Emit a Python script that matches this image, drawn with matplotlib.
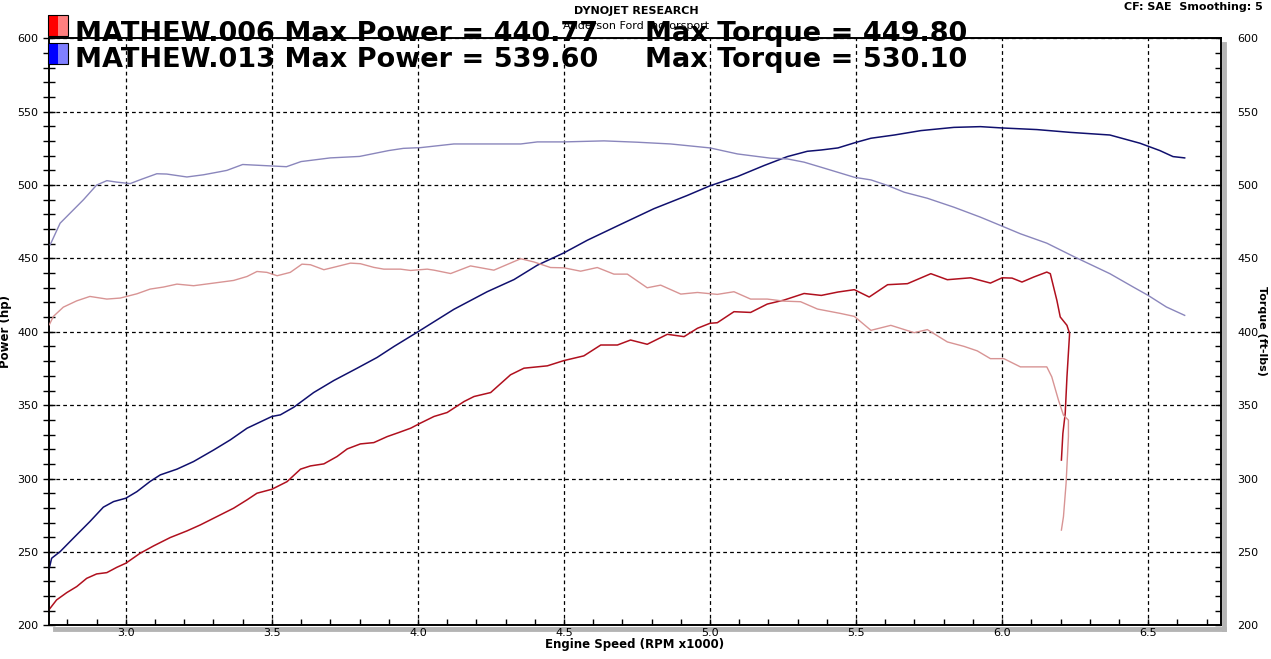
import matplotlib
matplotlib.use("Agg")
import matplotlib.pyplot as plt
from matplotlib.lines import Line2D
from matplotlib.patches import Rectangle
from matplotlib.ticker import MultipleLocator

# 运行 MATHEW.013 功率 (hp)
rpm_013_hp = [2.738, 2.746, 2.775, 2.82, 2.877, 2.923, 2.958, 3.0, 3.038, 3.083, 3.118, 3.175,
              3.232, 3.301, 3.358, 3.415, 3.5, 3.529, 3.575, 3.643, 3.712, 3.792, 3.86, 3.918,
              4.0, 4.123, 4.237, 4.329, 4.409, 4.5, 4.58, 4.694, 4.808, 4.922, 5.0, 5.094,
              5.185, 5.265, 5.333, 5.381, 5.438, 5.5, 5.551, 5.631, 5.722, 5.835, 5.926, 6.0,
              6.119, 6.233, 6.369, 6.472, 6.54, 6.585, 6.625]
hp_013 = [238.9, 245.7, 250.2, 259.3, 270.7, 280.5, 284.3, 286.6, 291.1, 298.0, 302.5, 306.4,
          311.6, 319.5, 326.4, 334.3, 342.3, 343.4, 348.6, 358.6, 366.8, 375.2, 382.5, 390.0,
          400.0, 415.3, 427.3, 435.6, 445.4, 453.8, 462.4, 473.2, 483.9, 492.9, 499.5, 505.8,
          513.3, 519.4, 523.0, 523.9, 525.3, 529.1, 531.9, 534.1, 537.1, 539.3, 539.8, 538.9,
          537.8, 535.9, 534.1, 528.5, 523.5, 519.4, 518.5]

# 运行 MATHEW.013 扭矩 (ft-lbs)
rpm_013_tq = [2.741, 2.775, 2.82, 2.855, 2.9, 2.935, 2.969, 3.015, 3.049, 3.106, 3.14, 3.209,
              3.266, 3.32, 3.346, 3.4, 3.5, 3.55, 3.6, 3.7, 3.8, 3.9, 3.95, 4.009, 4.123,
              4.352, 4.409, 4.5, 4.637, 4.75, 4.865, 5.0, 5.094, 5.208, 5.265, 5.322, 5.381,
              5.494, 5.551, 5.608, 5.665, 5.744, 5.835, 5.926, 6.0, 6.0625, 6.153, 6.244,
              6.369, 6.449, 6.5, 6.5625, 6.625]
tq_013 = [459.3, 474.0, 483.0, 490.0, 500.0, 503.0, 502.0, 501.0, 503.6, 507.7, 507.5, 505.5,
          507.0, 509.0, 510.0, 514.0, 513.0, 512.5, 516.0, 518.5, 519.5, 523.5, 525.0, 525.5,
          528.0, 528.0, 529.4, 529.4, 530.1, 529.2, 528.0, 525.3, 521.2, 518.3, 517.8, 515.6,
          512.1, 505.3, 503.5, 499.7, 495.1, 491.0, 484.9, 478.1, 472.0, 466.8, 460.4, 451.4,
          439.6, 430.5, 424.8, 416.9, 411.2]

# 运行 MATHEW.006 功率 (hp)
rpm_006_hp = [2.738, 2.763, 2.798, 2.832, 2.866, 2.9, 2.935, 2.969, 3.0, 3.049, 3.095, 3.152,
              3.209, 3.255, 3.312, 3.369, 3.415, 3.449, 3.5, 3.552, 3.598, 3.632, 3.678, 3.723,
              3.758, 3.803, 3.849, 3.895, 3.935, 3.975, 4.009, 4.055, 4.1, 4.158, 4.192, 4.249,
              4.317, 4.363, 4.443, 4.5, 4.568, 4.626, 4.683, 4.728, 4.785, 4.854, 4.911, 4.957,
              5.0, 5.025, 5.082, 5.139, 5.196, 5.253, 5.322, 5.381, 5.438, 5.494, 5.545, 5.608,
              5.676, 5.756, 5.8125, 5.892, 5.96, 6.0, 6.034, 6.068, 6.108, 6.153, 6.165, 6.1875,
              6.199, 6.222, 6.231, 6.222, 6.216, 6.208, 6.203]
hp_006 = [210.9, 217.3, 222.3, 226.4, 232.0, 235.0, 235.9, 239.5, 242.3, 249.1, 254.1, 259.8,
          264.3, 268.4, 274.1, 279.8, 285.5, 290.0, 292.7, 297.9, 306.4, 308.6, 310.0, 315.0,
          320.2, 323.6, 324.5, 328.6, 331.4, 334.3, 337.8, 342.3, 345.0, 352.5, 355.9, 358.6,
          370.7, 375.2, 376.8, 380.4, 383.6, 391.0, 391.0, 394.4, 391.5, 398.3, 396.7, 402.4,
          405.8, 406.2, 413.7, 413.2, 418.9, 421.6, 426.1, 424.8, 427.1, 428.7, 423.7, 432.1,
          432.8, 439.6, 435.5, 436.8, 433.2, 436.8, 436.6, 433.9, 437.3, 440.7, 439.6, 421.4,
          410.1, 404.4, 398.8, 369.3, 344.3, 330.7, 312.6]

# 运行 MATHEW.006 扭矩 (ft-lbs)
rpm_006_tq = [2.738, 2.752, 2.786, 2.832, 2.877, 2.935, 2.981, 3.038, 3.083, 3.129, 3.175,
              3.232, 3.301, 3.369, 3.415, 3.449, 3.483, 3.518, 3.563, 3.603, 3.632, 3.678,
              3.723, 3.769, 3.803, 3.849, 3.883, 3.94, 3.975, 4.032, 4.055, 4.112, 4.18, 4.26,
              4.352, 4.397, 4.454, 4.5, 4.557, 4.614, 4.671, 4.717, 4.785, 4.831, 4.9, 4.957,
              5.025, 5.082, 5.139, 5.196, 5.253, 5.31, 5.368, 5.447, 5.494, 5.551, 5.619, 5.699,
              5.744, 5.8125, 5.869, 5.915, 5.96, 6.006, 6.0625, 6.153, 6.17, 6.193, 6.21, 6.227,
              6.227, 6.219, 6.21, 6.203]
tq_006 = [404.8, 410.5, 416.8, 421.1, 424.1, 422.3, 423.0, 425.9, 429.1, 430.5, 432.5, 431.4,
          433.2, 435.0, 437.7, 441.1, 440.5, 438.2, 440.5, 446.1, 445.7, 442.3, 444.5, 446.8,
          446.4, 443.9, 442.7, 442.7, 441.8, 442.7, 442.0, 439.7, 444.9, 442.0, 449.8, 447.6,
          443.8, 443.6, 441.3, 443.8, 439.3, 439.3, 430.0, 431.8, 425.7, 426.8, 425.5, 427.3,
          422.3, 422.3, 420.9, 420.5, 415.5, 412.5, 410.5, 401.0, 404.4, 399.4, 401.5, 393.1,
          390.1, 387.0, 381.7, 381.7, 376.1, 376.1, 369.3, 353.4, 343.2, 339.8, 328.5, 296.7,
          274.0, 264.9]

legend_names = ["MATHEW.006", "MATHEW.013"]
max_power = ["440.77", "539.60"]
max_torque = ["449.80", "530.10"]

W, H = 1271, 659
fig = plt.figure(figsize=(W / 100, H / 100), dpi=100)
fig.patch.set_facecolor("white")

ax_l, ax_r, ax_t, ax_b = 49.3, 1220.6, 38.3, 625.3
ax = fig.add_axes([ax_l / W, 1 - ax_b / H, (ax_r - ax_l) / W, (ax_b - ax_t) / H])
ax2 = ax.twinx()

# 灰色阴影边框
fig.add_artist(Line2D([(ax_l + 6) / W, (ax_r + 3) / W], [1 - (ax_b + 3.5) / H] * 2,
                      color="#b4b4b4", lw=3.5, transform=fig.transFigure, zorder=0))
fig.add_artist(Line2D([(ax_r + 3) / W] * 2, [1 - (ax_t + 6) / H, 1 - (ax_b + 3.5) / H],
                      color="#b4b4b4", lw=3.5, transform=fig.transFigure, zorder=0))

ax.plot(rpm_006_hp, hp_006, color="#b0101e", lw=1.1, zorder=3)
ax.plot(rpm_013_hp, hp_013, color="#10106e", lw=1.1, zorder=3)
ax2.plot(rpm_006_tq, tq_006, color="#d89494", lw=1.0, zorder=3)
ax2.plot(rpm_013_tq, tq_013, color="#8a86bc", lw=1.0, zorder=3)

for a in (ax, ax2):
    a.set_xlim(2.738, 6.748)
    a.set_ylim(200, 600)
    a.yaxis.set_major_locator(MultipleLocator(50))
    a.yaxis.set_minor_locator(MultipleLocator(10))
    for s in a.spines.values():
        s.set_color("black")
        s.set_linewidth(1.2)

ax.xaxis.set_major_locator(MultipleLocator(0.5))
ax.xaxis.set_minor_locator(MultipleLocator(0.1))
ax.set_xticks([3.0, 3.5, 4.0, 4.5, 5.0, 5.5, 6.0, 6.5])
ax.set_xticklabels(["3.0", "3.5", "4.0", "4.5", "5.0", "5.5", "6.0", "6.5"])
ax.grid(True, which="major", color="black", linestyle=(0, (3, 2.5)), linewidth=0.9)

ax.tick_params(axis="x", which="both", direction="in", length=4.5, width=1, pad=2,
               labelsize=8, colors="black")
ax.tick_params(axis="y", which="both", direction="inout", length=8, width=1, pad=4,
               labelsize=8)
ax2.tick_params(axis="y", which="both", direction="in", length=4.5, width=1, pad=12,
                labelsize=8)
ax.set_yticks([200, 250, 300, 350, 400, 450, 500, 550, 600])
ax2.set_yticks([200, 250, 300, 350, 400, 450, 500, 550, 600])

ax.set_xlabel("Engine Speed (RPM x1000)", fontsize=8.5, fontweight="bold", labelpad=0)
ax.set_ylabel("Power (hp)", fontsize=8.5, fontweight="bold", labelpad=4)
fig.text(1262 / W, 1 - 331 / H, "Torque (ft-lbs)", rotation=-90, ha="center", va="center",
         fontsize=8, fontweight="bold")

# 顶部文字
fig.text(636 / W, 1 - 11 / H, "DYNOJET RESEARCH", ha="center", va="center",
         fontsize=8, fontweight="bold")
fig.text(636 / W, 1 - 26 / H, "Anderson Ford motorsport", ha="center", va="center",
         fontsize=8)
fig.text(1263 / W, 1 - 7 / H, "CF: SAE  Smoothing: 5", ha="right", va="center",
         fontsize=8, fontweight="bold")

# 图例
box_cols = [("#ff0000", "#ff8080"), ("#0000ff", "#8080ff")]
line_y = [34, 60]
box_top = [15, 43]
for i in range(2):
    y0 = 1 - (box_top[i] + 20.5) / H
    fig.add_artist(Rectangle((48 / W, y0), 10 / W, 20.5 / H, facecolor=box_cols[i][0],
                             edgecolor="none", transform=fig.transFigure, zorder=5))
    fig.add_artist(Rectangle((58 / W, y0), 10 / W, 20.5 / H, facecolor=box_cols[i][1],
                             edgecolor="none", transform=fig.transFigure, zorder=5))
    fig.add_artist(Rectangle((48 / W, y0), 20 / W, 20.5 / H, facecolor="none",
                             edgecolor="black", lw=0.8, transform=fig.transFigure, zorder=6))
    fig.text(75 / W, 1 - line_y[i] / H,
             legend_names[i] + " Max Power = " + max_power[i],
             ha="left", va="center", fontsize=19.5, fontweight="bold", zorder=7)
    fig.text(645 / W, 1 - line_y[i] / H, "Max Torque = " + max_torque[i],
             ha="left", va="center", fontsize=19.5, fontweight="bold", zorder=7)

fig.savefig("out.png", dpi=100)
